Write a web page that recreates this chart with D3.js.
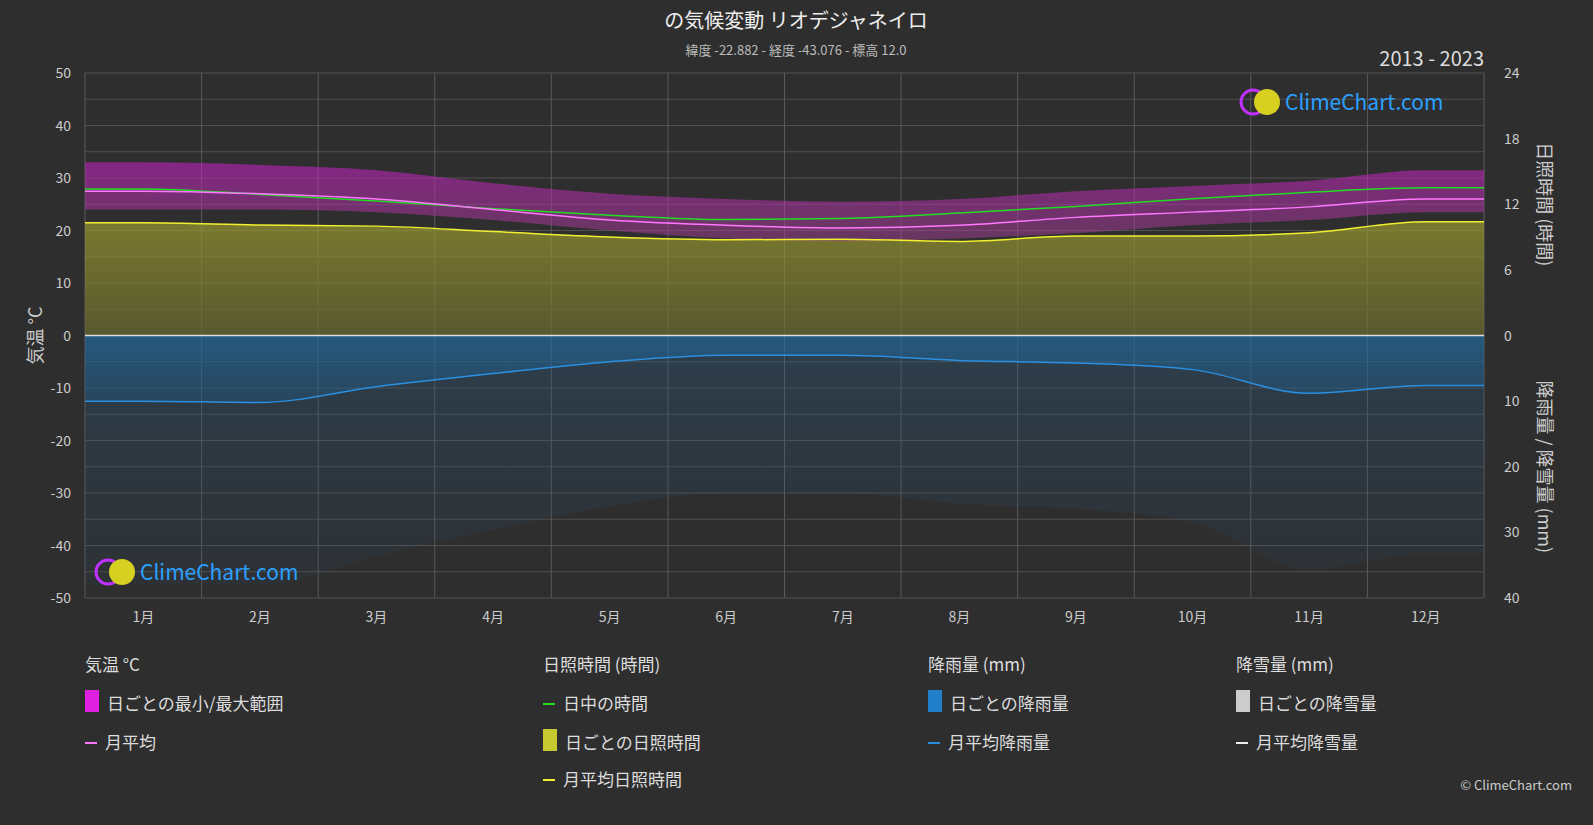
<!DOCTYPE html>
<html><head><meta charset="utf-8">
<script src="https://cdn.jsdelivr.net/npm/d3@7"></script>
<style>body{margin:0;background:#2e2e2e;font-family:"Noto Sans CJK JP","Noto Sans",sans-serif}</style>
</head><body><svg id="c" width="1593" height="825"></svg>
<script>
const months=["1月","2月","3月","4月","5月","6月","7月","8月","9月","10月","11月","12月"];
const tempMean=[27.5,27,26,24,22,21,20.5,21,22.5,23.5,24.5,26];
const tempMax=[33,32.5,31.5,29,27,26,25.5,26,27.5,28.5,29.5,31.5];
const tempMin=[24,24,23.5,22,20,18.5,18,18.5,19.5,21,22,23.5];
const daylight=[13.4,12.9,12.3,11.6,11.0,10.6,10.7,11.2,11.8,12.5,13.1,13.5];
const sunshine=[10.3,10.1,10.0,9.5,9.0,8.75,8.8,8.6,9.1,9.1,9.4,10.4];
const rainMean=[10,10.2,7.8,5.8,4,3,3,3.8,4.2,5.2,8.8,7.6];
const tempTicks=[-50,-40,-30,-20,-10,0,10,20,30,40,50];
const sunTicks=[0,6,12,18,24];
const rainTicks=[0,10,20,30,40];

const svg=d3.select("#c");
const L=85,R=1484,T=73,B=598;
const x=d3.scaleLinear().domain([0,12]).range([L,R]);
const yT=d3.scaleLinear().domain([-50,50]).range([B,T]);
const yS=d3.scaleLinear().domain([0,24]).range([yT(0),T]);
const yR=d3.scaleLinear().domain([0,40]).range([yT(0),B]);
const mid=i=>i+0.5;

const defs=svg.append("defs");
function grad(id,stops){const g=defs.append("linearGradient").attr("id",id).attr("x1",0).attr("x2",0).attr("y1",0).attr("y2",1);
stops.forEach(s=>g.append("stop").attr("offset",s[0]).attr("stop-color",s[1]).attr("stop-opacity",s[2]));}
grad("gt",[[0,"#c020c0",0.6],[1,"#a04090",0.5]]);
grad("gs",[[0,"#9a9a30",0.7],[1,"#6a6a30",0.7]]);
grad("gr",[[0,"#1f6fa8",0.55],[1,"#1f5a88",0.35]]);
grad("gr2",[[0,"#2a5f88",0.35],[1,"#2a4a66",0.12]]);

const g=svg.append("g");
d3.range(-50,51,5).forEach(v=>g.append("line").attr("x1",L).attr("x2",R).attr("y1",yT(v)).attr("y2",yT(v)).attr("stroke","#505050"));
d3.range(0,13).forEach(i=>g.append("line").attr("x1",x(i)).attr("x2",x(i)).attr("y1",T).attr("y2",B).attr("stroke","#5a5a5a"));

const xs=[0,...d3.range(12).map(mid),12];
const ext=a=>[a[0],...a,a[11]];
const curve=d3.curveMonotoneX;
svg.append("path").datum(ext(sunshine)).attr("fill","url(#gs)")
 .attr("d",d3.area().x((d,i)=>x(xs[i])).y0(yS(0)).y1(d=>yS(d)).curve(curve));
svg.append("path").datum(ext(tempMax).map((d,i)=>[d,ext(tempMin)[i]])).attr("fill","url(#gt)")
 .attr("d",d3.area().x((d,i)=>x(xs[i])).y0(d=>yT(d[1])).y1(d=>yT(d[0])).curve(curve));
// faint daily-rain haze (scaled from monthly means)
svg.append("path").datum(ext(rainMean).map(d=>Math.min(38,18+d*2))).attr("fill","url(#gr2)")
 .attr("d",d3.area().x((d,i)=>x(xs[i])).y0(yR(0)).y1(d=>yR(d)).curve(curve));
svg.append("path").datum(ext(rainMean)).attr("fill","url(#gr)")
 .attr("d",d3.area().x((d,i)=>x(xs[i])).y0(yR(0)).y1(d=>yR(d)).curve(curve));
svg.append("line").attr("x1",L).attr("x2",R).attr("y1",yT(0)).attr("y2",yT(0)).attr("stroke","#ddd").attr("stroke-width",1.5);
function line(data,sc,col){svg.append("path").datum(ext(data)).attr("fill","none").attr("stroke",col).attr("stroke-width",1.5)
 .attr("d",d3.line().x((d,i)=>x(xs[i])).y(d=>sc(d)).curve(curve));}
line(daylight,yS,"#22dd22");
line(sunshine,yS,"#f0f030");
line(tempMean,yT,"#ff77ff");
line(rainMean,yR,"#2a8fe0");

const tc="#ccc";
const ax=svg.append("g").attr("font-size",14).attr("fill",tc);
tempTicks.forEach(v=>ax.append("text").attr("x",L-14).attr("y",yT(v)+5).attr("text-anchor","end").text(v));
sunTicks.forEach(v=>ax.append("text").attr("x",R+20).attr("y",yS(v)+5).text(v));
rainTicks.slice(1).forEach(v=>ax.append("text").attr("x",R+20).attr("y",yR(v)+5).text(v));
months.forEach((m,i)=>ax.append("text").attr("x",x(mid(i))).attr("y",B+24).attr("text-anchor","middle").text(m));
svg.append("text").attr("transform",`translate(42,${yT(0)}) rotate(-90)`).attr("text-anchor","middle").attr("fill",tc).attr("font-size",18).text("気温 °C");
svg.append("text").attr("transform",`translate(1538,${yS(12)}) rotate(90)`).attr("text-anchor","middle").attr("fill",tc).attr("font-size",18).text("日照時間 (時間)");
svg.append("text").attr("transform",`translate(1538,${yR(20)}) rotate(90)`).attr("text-anchor","middle").attr("fill",tc).attr("font-size",18).text("降雨量 / 降雪量 (mm)");

svg.append("text").attr("x",796).attr("y",28).attr("text-anchor","middle").attr("fill","#eee").attr("font-size",20).text("の気候変動 リオデジャネイロ");
svg.append("text").attr("x",796).attr("y",55).attr("text-anchor","middle").attr("fill","#bbb").attr("font-size",13).text("緯度 -22.882 - 経度 -43.076 - 標高 12.0");
svg.append("text").attr("x",1484).attr("y",66).attr("text-anchor","end").attr("fill","#ddd").attr("font-size",20).text("2013 - 2023");

function logo(cx,cy){const lg=svg.append("g");
lg.append("circle").attr("cx",cx).attr("cy",cy).attr("r",12).attr("fill","none").attr("stroke","#c030ff").attr("stroke-width",3);
lg.append("circle").attr("cx",cx+14).attr("cy",cy).attr("r",13).attr("fill","#d8d020");
lg.append("text").attr("x",cx+32).attr("y",cy+8).attr("fill","#2aa0ff").attr("font-size",21).text("ClimeChart.com");}
logo(1253,102);logo(108,572);

const lg=svg.append("g").attr("font-size",17).attr("fill","#ddd");
function head(xp,t){lg.append("text").attr("x",xp).attr("y",671).text(t);}
function item(xp,y,t,type,col){
 if(type=="box"){lg.append("rect").attr("x",xp).attr("y",y-14).attr("width",14).attr("height",22).attr("fill",col);}
 else lg.append("line").attr("x1",xp).attr("x2",xp+12).attr("y1",y).attr("y2",y).attr("stroke",col).attr("stroke-width",2);
 lg.append("text").attr("x",xp+(type=="box"?22:20)).attr("y",y+6).text(t);}
head(85,"気温 °C");item(85,704,"日ごとの最小/最大範囲","box","#e020e0");item(85,743,"月平均","line","#ff77ff");
head(543,"日照時間 (時間)");item(543,704,"日中の時間","line","#22dd22");item(543,743,"日ごとの日照時間","box","#c8c830");item(543,780,"月平均日照時間","line","#f0f030");
head(928,"降雨量 (mm)");item(928,704,"日ごとの降雨量","box","#1f7fc8");item(928,743,"月平均降雨量","line","#2a8fe0");
head(1236,"降雪量 (mm)");item(1236,704,"日ごとの降雪量","box","#ccc");item(1236,743,"月平均降雪量","line","#eee");
svg.append("text").attr("x",1572).attr("y",790).attr("text-anchor","end").attr("fill","#ccc").attr("font-size",13).text("© ClimeChart.com");
</script></body></html>
